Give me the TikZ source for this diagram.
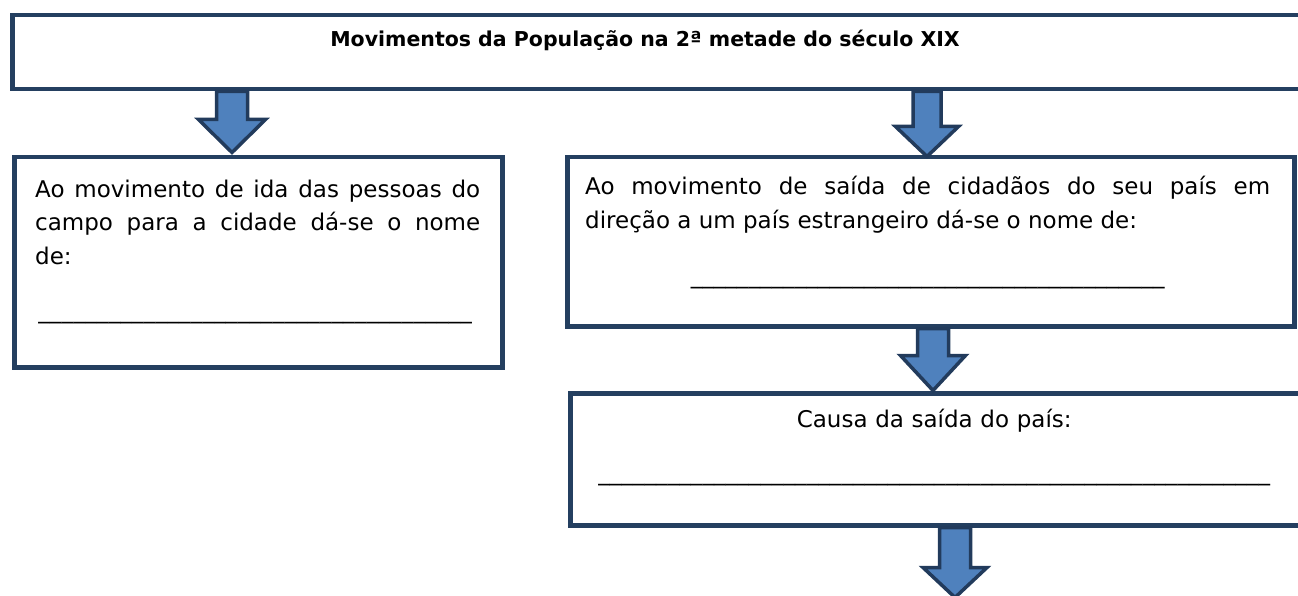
\documentclass[tikz,border=0pt]{standalone}
\usepackage{fontspec}
\setmainfont{DejaVu Sans}
\definecolor{boxline}{HTML}{243F60}
\definecolor{arrowfill}{HTML}{4F81BD}
\definecolor{arrowline}{HTML}{223B5C}
\newcommand{\blankline}[1]{\makebox[#1]{\xleaders\hbox{\_}\hfill}}
\begin{document}
\begin{tikzpicture}[x=1pt,y=-1pt,
  box/.style={draw=boxline, line width=4.5pt, rectangle, inner sep=0pt, anchor=north west},
  bodytext/.style={inner sep=0pt, font=\fontsize{23pt}{33.5pt}\selectfont},
  titletext/.style={inner sep=0pt, font=\fontsize{20.5pt}{24pt}\selectfont\bfseries},
  pics/blockarrow/.style n args={4}{code={
    \draw[draw=arrowline, fill=arrowfill, line width=3.5pt, line join=miter]
      (-#3,0) -- (-#3,#2) -- (-#4,#2) -- (0,#1) -- (#4,#2) -- (#3,#2) -- (#3,0) -- cycle;
  }}]
\useasboundingbox (0,0) rectangle (1298,596);
\clip (0,0) rectangle (1298,596);
% boxes
\node[box, minimum width=1320pt, minimum height=74pt] (top) at (10,13) {};
\node[box, minimum width=488pt, minimum height=210pt] (left) at (12,155) {};
\node[box, minimum width=727pt, minimum height=169pt] (emig) at (565,155) {};
\node[box, minimum width=760pt, minimum height=132pt] (causa) at (568,391) {};
% texts
\node[titletext, anchor=base] (toptext) at (645,47) {Movimentos da População na 2ª metade do século XIX};
\node[bodytext, anchor=base west, text width=445pt, align=justify] (lefttext) at (35,197)
  {Ao movimento de ida das pessoas do\linebreak campo para a cidade dá-se o nome\linebreak de:\\[21.5pt]\hspace*{3pt}\blankline{434pt}};
\node[bodytext, anchor=base west, text width=685pt, align=justify] (emigtext) at (585,195)
  {Ao movimento de saída de cidadãos do seu país em\linebreak direção a um país estrangeiro dá-se o nome de:\\[21.5pt]\makebox[\linewidth]{\blankline{474pt}}};
\node[bodytext, anchor=base west, text width=672pt, align=center] (causatext) at (598,427)
  {Causa da saída do país:\\[19.5pt]\blankline{672pt}};
% arrows
\pic at (top.south -| 232,0) {blockarrow={61}{28}{15.5}{33.5}};
\pic at (top.south -| 927,0) {blockarrow={65}{35}{14}{31.5}};
\pic at (emig.south -| 933,0) {blockarrow={62}{27}{15.5}{32.5}};
\pic at (causa.south -| 955,0) {blockarrow={70}{40}{15.5}{32}};
\end{tikzpicture}
\end{document}
